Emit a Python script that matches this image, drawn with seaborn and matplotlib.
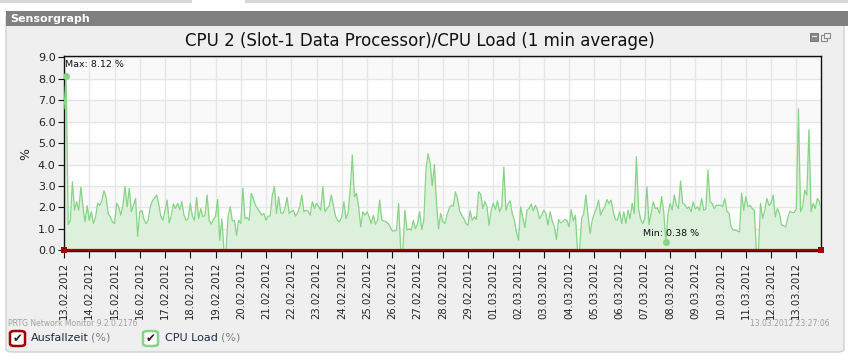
import numpy as np
import pandas as pd
import matplotlib
matplotlib.use("Agg")
import matplotlib.pyplot as plt
from matplotlib.patches import Rectangle, FancyBboxPatch
import seaborn as sns

# ---------------- data (2-hour samples, CPU load in %) ----------------
step_hours = 2
cpu_week1 = [6.6, 8.12, 1.2, 1.4, 3.2, 1.87, 2.27, 1.87, 2.95, 2.03,
             1.33, 2.08, 1.4, 1.8, 1.25, 1.56, 2.19, 2.1, 2.3, 2.78,
             2.47, 1.72, 1.56, 1.33, 1.25, 2.19, 2.03, 1.64, 2.1, 2.97,
             2.03, 2.89, 1.8, 2.1, 2.42, 0.66, 1.8, 1.87, 1.44, 1.25,
             1.4, 2.03, 2.31, 2.42, 2.58, 2.16, 1.6, 1.4, 1.84, 2.34,
             1.28, 1.64, 2.16, 1.95, 2.19, 1.9, 2.27, 1.64, 1.4, 1.48,
             2.19, 1.6, 1.4, 2.47, 1.48, 1.95, 1.56, 1.64, 2.58, 1.4,
             1.22, 1.44, 1.56, 2.37, 0.47, 1.48, 0.0, 0.0, 1.6, 2.03,
             1.37, 1.4, 0.7, 1.4, 1.25, 2.89, 1.48, 1.53, 1.4, 2.66]
cpu_week2 = [2.4, 2.1, 1.95, 1.8, 1.64, 1.72, 1.4, 1.6, 1.6, 2.58,
             2.97, 1.72, 2.5, 1.75, 1.72, 1.95, 2.47, 1.72, 1.8, 1.87,
             1.6, 1.75, 2.03, 2.58, 1.8, 1.87, 1.83, 1.64, 2.27, 1.95,
             2.19, 2.03, 1.87, 2.97, 1.8, 1.95, 2.06, 2.58, 2.1, 1.6,
             1.4, 1.33, 1.56, 2.27, 1.48, 1.75, 2.8, 4.45, 2.5, 2.66,
             2.03, 1.1, 1.8, 1.64, 1.8, 1.56, 1.25, 1.64, 1.22, 1.4,
             2.34, 1.4, 1.37, 1.33, 1.25, 1.1, 0.9, 0.9, 0.94, 2.19,
             0.0, 0.0, 1.87, 0.94, 1.0, 0.94, 1.4, 1.0, 1.25, 1.8,
             0.97, 1.4, 3.75, 4.5, 4.06, 3.0, 4.0, 2.19, 1.0, 1.72, 1.33]
cpu_week3 = [1.25, 1.64, 1.95, 2.1, 2.06, 2.73, 2.42, 1.84, 1.64, 1.48,
             1.25, 1.17, 1.84, 1.4, 1.56, 1.44, 2.73, 2.62, 1.95, 2.27,
             2.03, 1.17, 1.87, 2.19, 1.9, 2.31, 1.8, 2.03, 3.88, 1.87,
             2.16, 2.31, 1.72, 1.4, 0.86, 0.47, 2.03, 1.53, 1.06, 1.87,
             1.95, 2.16, 1.84, 2.1, 1.9, 1.48, 1.64, 1.87, 1.72, 1.17,
             1.8, 1.36, 1.12, 0.5, 1.44, 1.28, 1.33, 1.44, 1.4, 1.1,
             1.9, 1.37, 1.64, 0.0, 0.0, 1.5, 1.72, 2.58, 1.64, 0.78,
             1.4, 1.72, 1.95, 2.34, 1.64, 1.87, 2.03, 2.37, 2.19, 2.34,
             1.8, 1.44, 1.4, 1.8, 1.25, 1.8, 1.25, 1.87, 1.48, 2.19]
cpu_week4 = [1.72, 4.37, 1.95, 1.45, 1.25, 1.48, 2.97, 1.2, 1.72, 2.26,
             1.95, 1.98, 1.72, 2.5, 1.8, 0.38, 1.72, 2.19, 1.87, 2.58,
             2.1, 1.95, 3.23, 2.19, 2.14, 1.95, 2.03, 1.8, 2.26, 1.92,
             2.03, 1.87, 2.42, 1.87, 1.92, 3.75, 2.26, 2.19, 1.95, 2.1,
             2.1, 2.1, 2.03, 2.42, 1.83, 1.72, 1.09, 0.94, 0.94, 0.9,
             0.86, 2.66, 1.87, 2.5, 2.03, 2.1, 1.95, 1.87, 0.0, 0.0,
             2.19, 1.48, 1.87, 2.42, 2.1, 2.19, 2.58, 1.56, 1.95, 1.72,
             1.17, 1.14, 1.09, 1.56, 1.83, 1.76, 1.76, 1.95, 6.6, 1.8,
             2.03, 2.8, 2.58, 5.62, 1.8, 2.19, 1.95, 2.42, 2.26, 1.87]
downtime_values = [0.0, 0.0]
date_labels = ["13.02.2012", "14.02.2012", "15.02.2012", "16.02.2012", "17.02.2012",
               "18.02.2012", "19.02.2012", "20.02.2012", "21.02.2012", "22.02.2012",
               "23.02.2012", "24.02.2012", "25.02.2012", "26.02.2012", "27.02.2012",
               "28.02.2012", "29.02.2012", "01.03.2012", "02.03.2012", "03.03.2012",
               "04.03.2012", "05.03.2012", "06.03.2012", "07.03.2012", "08.03.2012",
               "09.03.2012", "10.03.2012", "11.03.2012", "12.03.2012", "13.03.2012"]
y_ticks = [0, 1, 2, 3, 4, 5, 6, 7, 8, 9]
end_hours = 719.45

cpu = cpu_week1 + cpu_week2 + cpu_week3 + cpu_week4
df = pd.DataFrame({"hours": np.arange(len(cpu)) * step_hours, "cpu": cpu})
df_down = pd.DataFrame({"hours": [0.0, end_hours], "down": downtime_values})

# ---------------- figure ----------------
W, H = 848, 356
fig = plt.figure(figsize=(W / 100, H / 100), dpi=100, facecolor="white")
plt.rcParams["font.family"] = ["DejaVu Sans"]


def fx(x):
    return x / W


def fy(y):
    return 1 - y / H


def rect(x0, y0, x1, y1, z=-5, **kw):
    r = Rectangle((fx(x0), fy(y1)), fx(x1 - x0), (y1 - y0) / H,
                  transform=fig.transFigure, zorder=z, **kw)
    fig.add_artist(r)


# top tab strip
rect(0, 0, 192, 3, facecolor="#d8d8d8", edgecolor="none")
rect(245, 0, 848, 3, facecolor="#d8d8d8", edgecolor="none")
# panel
fig.add_artist(FancyBboxPatch((fx(6), fy(352)), fx(838), (352 - 14) / H,
                              boxstyle="round,pad=0,rounding_size=0.008",
                              transform=fig.transFigure, facecolor="#efefef",
                              edgecolor="#d0d0d0", linewidth=1, zorder=-10))
# header bar
rect(6, 11, 848, 26, facecolor="#808080", edgecolor="none")
fig.text(fx(10), fy(18.5), "Sensorgraph", color="white", fontsize=8,
         fontweight="bold", va="center", ha="left")

# top-right icons
rect(810, 33, 818, 41, facecolor="#8a8a8a", edgecolor="#6a6a6a", linewidth=0.6)
rect(811.5, 36, 816.5, 37, z=-4, facecolor="#efefef", edgecolor="none")
rect(821, 35, 827, 41, facecolor="none", edgecolor="#8a8a8a", linewidth=0.8)
rect(824, 33, 830, 38, z=-4, facecolor="#efefef", edgecolor="#8a8a8a", linewidth=0.8)

# title
fig.text(fx(420), fy(41), "CPU 2 (Slot-1 Data Processor)/CPU Load (1 min average)",
         fontsize=12, ha="center", va="center", color="#111111")

# axes
ax = fig.add_axes([fx(64), fy(251), fx(821 - 64), (251 - 56) / H])
ax.set_zorder(5)
ax.set_facecolor("white")
ax.set_xlim(0, end_hours)
ax.set_ylim(-0.03, 9.06)
for k in range(9):
    if k % 2 == 0:
        ax.axhspan(k, k + 1, color="#f9f9f9", zorder=0, linewidth=0)
ax.axhspan(9, 9.06, color="#f9f9f9", zorder=0, linewidth=0)
ax.set_yticks(y_ticks)
ax.set_yticklabels([f"{v:.1f}" for v in y_ticks])
ax.set_xticks(np.arange(len(date_labels)) * 24)
ax.set_xticklabels(date_labels, rotation=90)
ax.grid(True, color="#e6e6e6", linewidth=1)
ax.set_axisbelow(True)

ax.fill_between(df["hours"], 0, df["cpu"], color="#ddf0dc", linewidth=0, zorder=2)
sns.lineplot(data=df, x="hours", y="cpu", ax=ax, color="#86d486", linewidth=0.9,
             zorder=3, legend=False)
sns.lineplot(data=df_down, x="hours", y="down", ax=ax, color="#a00000",
             linewidth=1.6, zorder=4, legend=False, marker="s", markersize=4,
             markeredgewidth=0, clip_on=False)

imax = int(np.argmax(df["cpu"].values))
pos = df[df["cpu"] > 0]
imin = pos["cpu"].idxmin()
ax.plot(df["hours"][imax], df["cpu"][imax], "o", color="#86d486", markersize=4, zorder=5)
ax.plot(df["hours"][imin], df["cpu"][imin], "o", color="#86d486", markersize=4, zorder=5)
ax.annotate(f"Max: {df['cpu'][imax]:.2f} %", (df["hours"][imax], df["cpu"][imax]),
            xytext=(-1, 5), textcoords="offset points", ha="left", va="bottom",
            fontsize=6.8, color="#111111", zorder=6)
ax.annotate(f"Min: {df['cpu'][imin]:.2f} %", (df["hours"][imin], df["cpu"][imin]),
            xytext=(4, 3), textcoords="offset points", ha="center", va="bottom",
            fontsize=6.8, color="#111111", zorder=6)

ax.set_xlabel("")
ax.set_ylabel("%", fontsize=9, color="#222222", labelpad=4)
for s in ax.spines.values():
    s.set_color("#111111")
    s.set_linewidth(1)
ax.tick_params(axis="both", direction="out", color="#111111", labelcolor="#222222",
               labelsize=8)
ax.tick_params(axis="x", length=5, pad=3, labelsize=7.2)
ax.tick_params(axis="y", length=4, pad=2)

# footer
fig.text(fx(8), fy(323), "PRTG Network Monitor 9.2.0.2176", fontsize=5.5,
         color="#a0a0a0", ha="left", va="center")
fig.text(fx(830), fy(323), "13.03.2012 23:27:06", fontsize=5.5,
         color="#a0a0a0", ha="right", va="center")

# legend check boxes
def checkbox(x0, edge, label, tx):
    fig.add_artist(FancyBboxPatch((fx(x0), fy(346)), fx(15), 15 / H,
                                  boxstyle="round,pad=0,rounding_size=0.006",
                                  transform=fig.transFigure, facecolor="white",
                                  edgecolor=edge, linewidth=1.8, zorder=-3))
    fig.text(fx(x0 + 7.5), fy(338.5), "\u2714", fontsize=8.5, color="#222222",
             ha="center", va="center")
    t = fig.text(fx(tx), fy(338), label, fontsize=8, color="#1f2a44",
                 ha="left", va="center")
    return t

checkbox(10, "#a00000", "Ausfallzeit", 31)
checkbox(143, "#86d486", "CPU Load", 165)
fig.text(fx(91), fy(338), "(%)", fontsize=8, color="#808080", ha="left", va="center")
fig.text(fx(221), fy(338), "(%)", fontsize=8, color="#808080", ha="left", va="center")

fig.savefig("out.png", dpi=100, facecolor="white")
